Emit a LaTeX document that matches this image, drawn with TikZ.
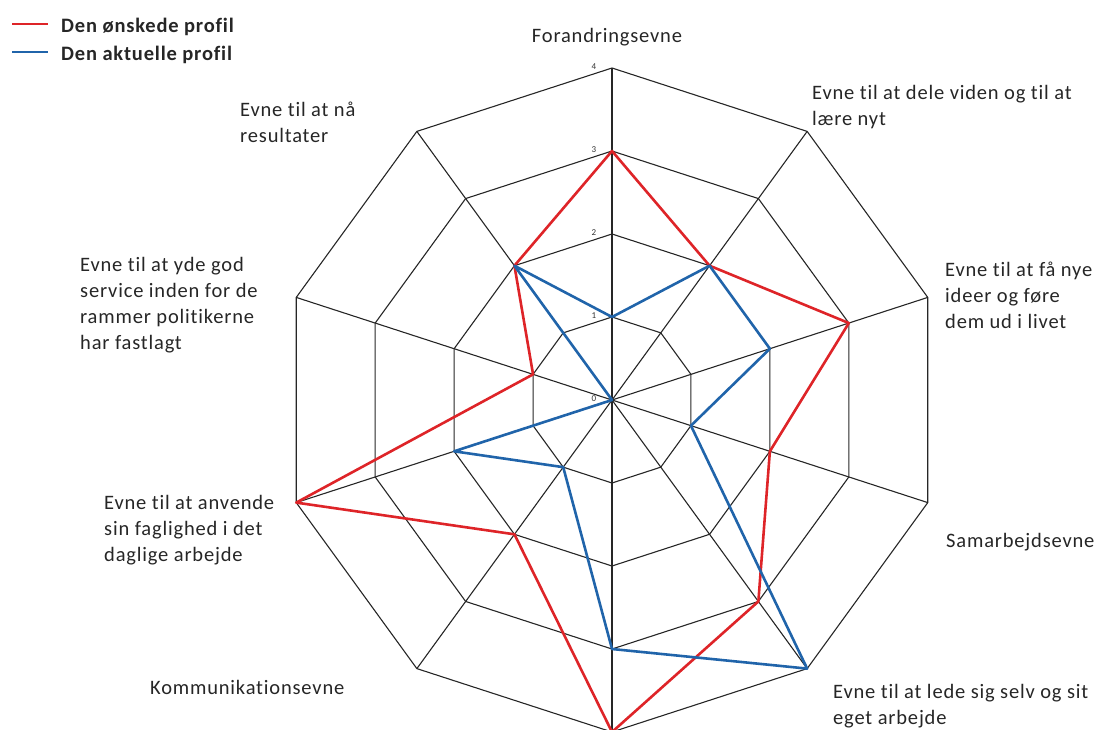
\documentclass[tikz,border=0pt]{standalone}
\usepackage{fontspec}
\setmainfont[Ligatures=NoCommon, LetterSpace=4]{Carlito}
\definecolor{profred}{RGB}{222,36,40}
\definecolor{profblue}{RGB}{32,100,170}
\begin{document}
\begin{tikzpicture}[x=1pt,y=1pt,
  grid/.style={draw=black!85, line width=1.1pt, line join=miter},
  desired/.style={draw=profred, line width=2.6pt, line join=round},
  actual/.style={draw=profblue, line width=2.6pt, line join=round},
  lbl/.style={inner sep=0pt, font=\fontsize{20.5}{26}\selectfont, text=black!85},
  legtext/.style={inner sep=0pt, font=\fontsize{20.5}{26}\selectfont\bfseries, text=black!85},
  tick/.style={inner sep=0pt, font=\fontsize{9}{10}\selectfont, text=black!80}]
\clip (0,0) rectangle (1108,-729);

% ---- radar chart, ten axes, four levels ----
\begin{scope}[shift={(612,-400)}]
  \coordinate (c) at (0,0);
  \foreach \i in {0,...,9}{\coordinate (o\i) at (90-36*\i:332);}
  % rings
  \foreach \k in {1,...,4}{
    \draw[grid] (90:\k*83) \foreach \i in {1,...,9}{ -- (90-36*\i:\k*83)} -- cycle;
  }
  % spokes
  \foreach \i in {0,...,9}{\draw[grid] (c) -- (o\i);}
  % scale labels
  \foreach \k in {0,...,4}{\node[tick] (t\k) at (-18,\k*83+1) {\k};}

  % profiles
  \foreach \v [count=\i from 0] in {3,2,3,2,3,4,2,4,1,2}{\coordinate (d\i) at (90-36*\i:\v*83);}
  \foreach \v [count=\i from 0] in {1,2,2,1,4,3,1,2,0,2}{\coordinate (a\i) at (90-36*\i:\v*83);}
  \draw[desired] (d0) -- (d1) -- (d2) -- (d3) -- (d4) -- (d5) -- (d6) -- (d7) -- (d8) -- (d9) -- cycle;
  \draw[actual] (a0) -- (a1) -- (a2) -- (a3) -- (a4) -- (a5) -- (a6) -- (a7) -- (a8) -- (a9) -- cycle;
\end{scope}

% ---- axis captions ----
\node[lbl, anchor=base] (l0) at (607,-42) {Forandringsevne};
\node[lbl, anchor=base west] (l1) at (812,-99) {\begin{tabular}[t]{@{}l@{}}Evne til at dele viden og til at\\lære nyt\end{tabular}};
\node[lbl, anchor=base west] (l2) at (945,-276) {\begin{tabular}[t]{@{}l@{}}Evne til at få nye\\ideer og føre\\dem ud i livet\end{tabular}};
\node[lbl, anchor=base west] (l3) at (946,-547) {Samarbejdsevne};
\node[lbl, anchor=base west] (l4) at (833,-698) {\begin{tabular}[t]{@{}l@{}}Evne til at lede sig selv og sit\\eget arbejde\end{tabular}};
\node[lbl, anchor=base west] (l6) at (150,-694) {Kommunikationsevne};
\node[lbl, anchor=base west] (l7) at (104,-509) {\begin{tabular}[t]{@{}l@{}}Evne til at anvende\\sin faglighed i det\\daglige arbejde\end{tabular}};
\node[lbl, anchor=base west] (l8) at (80,-271) {\begin{tabular}[t]{@{}l@{}}Evne til at yde god\\service inden for de\\rammer politikerne\\har fastlagt\end{tabular}};
\node[lbl, anchor=base west] (l9) at (240,-116) {\begin{tabular}[t]{@{}l@{}}Evne til at nå\\resultater\end{tabular}};

% ---- legend ----
\coordinate (r1) at (12,-24);
\coordinate (r2) at (48,-24);
\coordinate (b1) at (12,-52);
\coordinate (b2) at (48,-52);
\draw[draw=profred, line width=1.6pt] (r1) -- (r2);
\draw[draw=profblue, line width=1.6pt] (b1) -- (b2);
\node[legtext, anchor=base west] (k1) at (61,-32) {Den ønskede profil};
\node[legtext, anchor=base west] (k2) at (61,-60) {Den aktuelle profil};
\end{tikzpicture}
\end{document}
